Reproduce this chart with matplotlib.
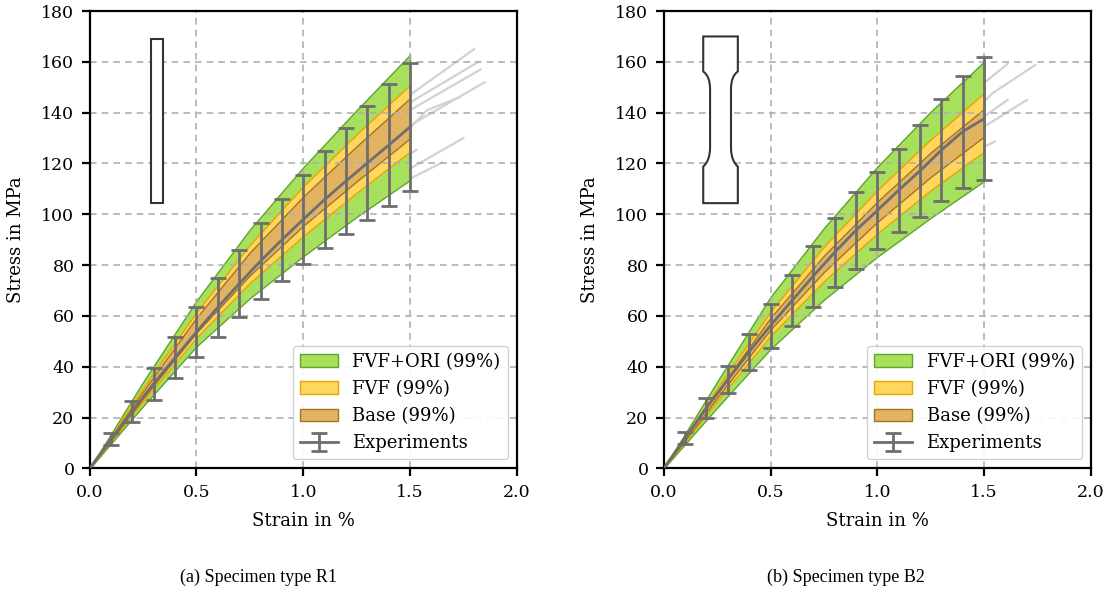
import numpy as np
import matplotlib
matplotlib.use('Agg')
import matplotlib.pyplot as plt
from matplotlib.patches import Patch, Rectangle, PathPatch
from matplotlib.path import Path

plt.rcParams['font.family'] = ['DejaVu Serif']

# simulated 99% bands (strain in %, stress in MPa)
sim_strain = [0.0, 0.25, 0.5, 0.75, 1.0, 1.25, 1.5]

r1_ori_hi = [0, 34, 66, 94, 118.5, 141, 162.8]
r1_ori_lo = [0, 24.5, 48, 67, 83.5, 99, 113.5]
r1_fvf_hi = [0, 31.5, 61.5, 88, 111, 131.5, 150.9]
r1_fvf_lo = [0, 26.5, 51.5, 73, 91.5, 108.5, 124.7]
r1_base_hi = [0, 30.3, 59.3, 85, 107, 126.8, 145.7]
r1_base_lo = [0, 27.5, 53.5, 76, 95.5, 113, 129.9]

b2_ori_hi = [0, 34.1, 67.5, 94.6, 118.7, 140.4, 160.1]
b2_ori_lo = [0, 23.9, 47.0, 66.4, 83.3, 98.6, 113.1]
b2_fvf_hi = [0, 31.4, 61.8, 87.3, 109.5, 129.5, 147.7]
b2_fvf_lo = [0, 26.6, 52.2, 73.7, 92.5, 109.5, 124.7]
b2_base_hi = [0, 30.2, 59.3, 83.7, 105.0, 124.3, 141.5]
b2_base_lo = [0, 27.8, 54.7, 77.3, 97.0, 114.7, 130.6]

# experiments: mean and min/max
exp_strain = [0.0, 0.1, 0.2, 0.3, 0.4, 0.5, 0.6, 0.7, 0.8, 0.9, 1.0, 1.1, 1.2, 1.3, 1.4, 1.5]

r1_mean = [0, 11.5, 22.5, 33.4, 43.6, 53.7, 63.4, 72.7, 81.6, 90.0, 98.0, 105.8, 113.1, 120.2, 127.2, 134.4]
r1_max = [0, 13.8, 26.7, 39.7, 51.6, 63.4, 75.1, 85.9, 96.4, 106.2, 115.6, 125.1, 133.9, 142.7, 151.1, 159.6]
r1_min = [0, 9.2, 18.3, 27.1, 35.7, 44.0, 51.8, 59.4, 66.8, 73.9, 80.5, 86.6, 92.4, 97.8, 103.3, 109.2]

b2_mean = [0, 12.0, 23.8, 34.9, 45.9, 56.2, 66.0, 75.7, 85.0, 93.7, 101.5, 109.5, 117.1, 125.3, 132.6, 137.6]
b2_max = [0, 14.3, 27.7, 40.2, 52.8, 64.8, 76.1, 87.7, 98.6, 108.8, 116.6, 125.9, 135.1, 145.3, 154.6, 161.9]
b2_min = [0, 9.8, 19.9, 29.5, 38.9, 47.5, 56.0, 63.7, 71.4, 78.6, 86.3, 93.0, 99.1, 105.3, 110.5, 113.4]

# single test curves (light gray)
r1_tests = [
    ([0, 0.5, 1.0, 1.5, 1.80], [0, 56, 104, 147, 165]),
    ([0, 0.5, 1.0, 1.5, 1.82], [0, 55, 101, 144, 160]),
    ([0, 0.5, 1.0, 1.5, 1.83], [0, 54, 100, 141, 157]),
    ([0, 0.5, 1.0, 1.5, 1.85], [0, 53, 97, 135, 152]),
    ([0, 0.5, 1.0, 1.5, 1.58, 1.73], [0, 54, 99, 134, 141, 146]),
    ([0, 0.5, 1.0, 1.5, 1.75], [0, 51, 93, 118, 130]),
    ([0, 0.5, 1.0, 1.5, 1.65], [0, 49, 88, 114, 120.4]),
    ([0, 0.5, 1.0, 1.53], [0, 52, 95, 125.4]),
]
b2_tests = [
    ([0, 0.5, 1.0, 1.5, 1.61], [0, 60, 110, 151.7, 159.2]),
    ([0, 0.5, 1.0, 1.5, 1.54, 1.74], [0, 58, 106, 144.4, 147.7, 158.8]),
    ([0, 0.5, 1.0, 1.5, 1.61], [0, 57, 104, 138.5, 145]),
    ([0, 0.5, 1.0, 1.5, 1.70], [0, 56, 101, 134.5, 145]),
    ([0, 0.5, 1.0, 1.5, 1.55], [0, 55, 98, 126.6, 128.6]),
]

green_fc, green_ec = '#a6e05c', '#5ea52a'
yellow_fc, yellow_ec = '#ffd65e', '#eaa400'
brown_fc, brown_ec = '#e2b462', '#a6741f'
exp_c = '#6e6e6e'


def panel(ax, tests, bands, mean, lo, hi):
    for xs, ys in tests:
        ax.plot(xs, ys, color='#d2d2d2', lw=1.6, zorder=0.5)
    (ohi, olo), (fhi, flo), (bhi, blo) = bands
    ax.fill_between(sim_strain, olo, ohi, facecolor=green_fc, edgecolor=green_ec, lw=1.0,
                    label='FVF+ORI (99%)')
    ax.fill_between(sim_strain, flo, fhi, facecolor=yellow_fc, edgecolor=yellow_ec, lw=1.0,
                    label='FVF (99%)')
    ax.fill_between(sim_strain, blo, bhi, facecolor=brown_fc, edgecolor=brown_ec, lw=1.0,
                    label='Base (99%)')
    m = np.array(mean)
    err = [m - np.array(lo), np.array(hi) - m]
    ax.errorbar(exp_strain, mean, yerr=err, errorevery=(1, 1), color=exp_c,
                lw=2.0, elinewidth=2.0, capsize=6, capthick=2.0, zorder=3,
                label='Experiments')

    ax.set_xlim(0, 2.0)
    ax.set_ylim(0, 180)
    ax.set_xticks([0.0, 0.5, 1.0, 1.5, 2.0])
    ax.set_yticks(range(0, 181, 20))
    ax.grid(True, ls=(0, (4, 3)), color='#b0b0b0', lw=1.2)
    for s in ax.spines.values():
        s.set_linewidth(1.6)
    ax.tick_params(direction='out', length=6, width=1.6, labelsize=12.5, pad=5)
    ax.set_xlabel('Strain in %', fontsize=13, labelpad=8)
    ax.set_ylabel('Stress in MPa', fontsize=13, labelpad=12)
    ax.legend(loc='lower right', fontsize=13, framealpha=0.9, edgecolor='#cccccc',
              handlelength=2.1)


fig = plt.figure(figsize=(11.11, 6.0), dpi=100)
ax1 = fig.add_axes([0.0807, 0.2193, 0.3845, 0.7623])
ax2 = fig.add_axes([0.5974, 0.2193, 0.3845, 0.7623])

panel(ax1, r1_tests,
      [(r1_ori_hi, r1_ori_lo), (r1_fvf_hi, r1_fvf_lo), (r1_base_hi, r1_base_lo)],
      r1_mean, r1_min, r1_max)
panel(ax2, b2_tests,
      [(b2_ori_hi, b2_ori_lo), (b2_fvf_hi, b2_fvf_lo), (b2_base_hi, b2_base_lo)],
      b2_mean, b2_min, b2_max)

# specimen sketches
ax1.add_patch(Rectangle((0.287, 104.5), 0.056, 64.5, facecolor='white',
                        edgecolor='#333333', lw=1.5, zorder=4))

verts = [(0.185, 170), (0.347, 170), (0.347, 156.2), (0.316, 154.5), (0.315, 149.6),
         (0.315, 126), (0.316, 121), (0.347, 118.8), (0.347, 104.4), (0.185, 104.4),
         (0.185, 118.8), (0.216, 121), (0.217, 126), (0.217, 149.6), (0.216, 154.5),
         (0.185, 156.2), (0.185, 170)]
codes = [Path.MOVETO, Path.LINETO, Path.LINETO, Path.CURVE3, Path.CURVE3,
         Path.LINETO, Path.CURVE3, Path.CURVE3, Path.LINETO, Path.LINETO,
         Path.LINETO, Path.CURVE3, Path.CURVE3, Path.LINETO, Path.CURVE3,
         Path.CURVE3, Path.CLOSEPOLY]
ax2.add_patch(PathPatch(Path(verts, codes), facecolor='white', edgecolor='#333333',
                        lw=1.5, zorder=4))

fig.text(0.2325, 0.037, '(a) Specimen type R1', ha='center', va='center',
         family='Liberation Serif', fontsize=13)
fig.text(0.761, 0.037, '(b) Specimen type B2', ha='center', va='center',
         family='Liberation Serif', fontsize=13)

fig.savefig('out.png', dpi=100)
